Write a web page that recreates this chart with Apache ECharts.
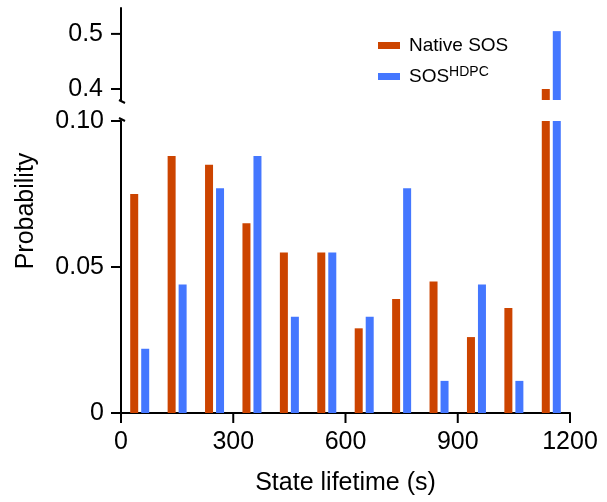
<!DOCTYPE html>
<html>
<head>
<meta charset="utf-8">
<script src="https://cdn.jsdelivr.net/npm/echarts@6/dist/echarts.min.js"></script>
<style>
    html, body { margin: 0; padding: 0; background: #fff; }
    #chart { width: 607px; height: 502px; }
</style>
</head>
<body>
<div id="chart"></div>
<script>
// bin centres (s) and probabilities per bin
const binCenters = [50, 150, 250, 350, 450, 550, 650, 750, 850, 950, 1050, 1150];
const nativeSOS = [0.075, 0.088, 0.085, 0.065, 0.055, 0.055, 0.029, 0.039, 0.045, 0.026, 0.036, 0.40];
const sosHDPC = [0.022, 0.044, 0.077, 0.088, 0.033, 0.055, 0.033, 0.077, 0.011, 0.044, 0.011, 0.505];
const xTicks = [0, 300, 600, 900, 1200];
const lowerTicks = [0, 0.05, 0.10];
const upperTicks = [0.4, 0.5];

const red = '#CC4400';
const blue = '#4477FF';
const font = 'Liberation Sans, Arial, sans-serif';
const tickLen = 10;

// grid geometry (two stacked grids for the broken y axis)
const gLeft = 121, gWidth = 449;
const upTop = 8, upHeight = 92, upMin = 0.38, upMax = 0.547;
const loTop = 121, loHeight = 292, loMax = 0.1;

const axisLine = {
    show: true,
    onZero: false,
    lineStyle: { color: '#000', width: 2 }
}

const pairs = (vals) => binCenters.map((x, i) => [x, vals[i]]);

const barSeries = (name, vals, color, idx) => ({
    name: name,
    type: 'bar',
    xAxisIndex: idx,
    yAxisIndex: idx,
    data: pairs(vals),
    barWidth: 8,
    barGap: '37.5%',
    clip: true,
    itemStyle: { color: color },
    emphasis: { disabled: true }
});

// tick marks drawn as graphic lines on top of everything
const tickStyle = { stroke: '#000', lineWidth: 2 };
const yBase = loTop + loHeight;
const tickLine = (x1, y1, x2, y2) => ({
    type: 'line', z: 100, silent: true,
    shape: { x1: x1, y1: y1, x2: x2, y2: y2 },
    style: tickStyle
});
const tickLines = [].concat(
    xTicks.map((v) => {
        const x = gLeft + v / 1200 * gWidth;
        return tickLine(x, yBase, x, yBase + tickLen);
    }),
    lowerTicks.map((v) => {
        const y = loTop + loHeight * (1 - v / loMax);
        return tickLine(gLeft - tickLen, y, gLeft, y);
    }),
    upperTicks.map((v) => {
        const y = upTop + upHeight * (upMax - v) / (upMax - upMin);
        return tickLine(gLeft - tickLen, y, gLeft, y);
    })
);

const chart = echarts.init(document.getElementById('chart'), null, { renderer: 'canvas' });

chart.setOption({
    animation: false,
    textStyle: { fontFamily: font },
    grid: [
        { left: gLeft, top: upTop, width: gWidth, height: upHeight },
        { left: gLeft, top: loTop, width: gWidth, height: loHeight }
    ],
    legend: {
        orient: 'vertical',
        left: 378,
        top: 36,
        padding: 0,
        itemWidth: 22,
        itemHeight: 7,
        itemGap: 10,
        icon: 'rect',
        data: ['Native SOS', 'SOSHDPC'],
        formatter: (n) => n === 'SOSHDPC' ? 'SOS{sup|HDPC}' : n,
        textStyle: {
            fontFamily: font,
            fontSize: 19,
            color: '#000',
            padding: [0, 0, 0, 4],
            rich: {
                sup: { fontSize: 14, fontFamily: font, color: '#000', padding: [0, 0, 9, 0] }
            }
        }
    },
    xAxis: [
        {
            type: 'value', gridIndex: 0, min: 0, max: 1200, interval: 300,
            show: false
        },
        {
            type: 'value', gridIndex: 1, min: 0, max: 1200, interval: 300,
            axisLine,
            axisTick: { show: false },
            splitLine: { show: false },
            axisLabel: {
                customValues: xTicks,
                fontSize: 25, color: '#000', margin: 17, fontFamily: font,
                formatter: (v) => String(v)
            },
            name: 'State lifetime (s)',
            nameLocation: 'middle',
            nameGap: 58,
            nameTextStyle: { fontSize: 25, color: '#000', fontFamily: font }
        }
    ],
    yAxis: [
        {
            type: 'value', gridIndex: 0, min: upMin, max: upMax,
            axisLine,
            axisTick: { show: false },
            splitLine: { show: false },
            axisLabel: {
                customValues: upperTicks,
                fontSize: 25, color: '#000', margin: 18, fontFamily: font,
                formatter: (v) => v.toFixed(1)
            }
        },
        {
            type: 'value', gridIndex: 1, min: 0, max: loMax, interval: 0.05,
            axisLine,
            axisTick: { show: false },
            splitLine: { show: false },
            axisLabel: {
                customValues: lowerTicks,
                fontSize: 25, color: '#000', margin: 17, fontFamily: font,
                formatter: (v) => v === 0 ? '0' : v.toFixed(2)
            }
        }
    ],
    graphic: [
        {
            type: 'text',
            x: 26, y: 211,
            rotation: Math.PI / 2,
            style: {
                text: 'Probability',
                font: '25px ' + font,
                fill: '#000',
                align: 'center',
                verticalAlign: 'middle'
            }
        },
        tickLine(119, 100, 125, 103),
        tickLine(119, 118, 125, 121)
    ].concat(tickLines),
    series: [
        barSeries('Native SOS', nativeSOS, red, 0),
        barSeries('SOSHDPC', sosHDPC, blue, 0),
        barSeries('Native SOS', nativeSOS, red, 1),
        barSeries('SOSHDPC', sosHDPC, blue, 1)
    ]
});
</script>
</body>
</html>
